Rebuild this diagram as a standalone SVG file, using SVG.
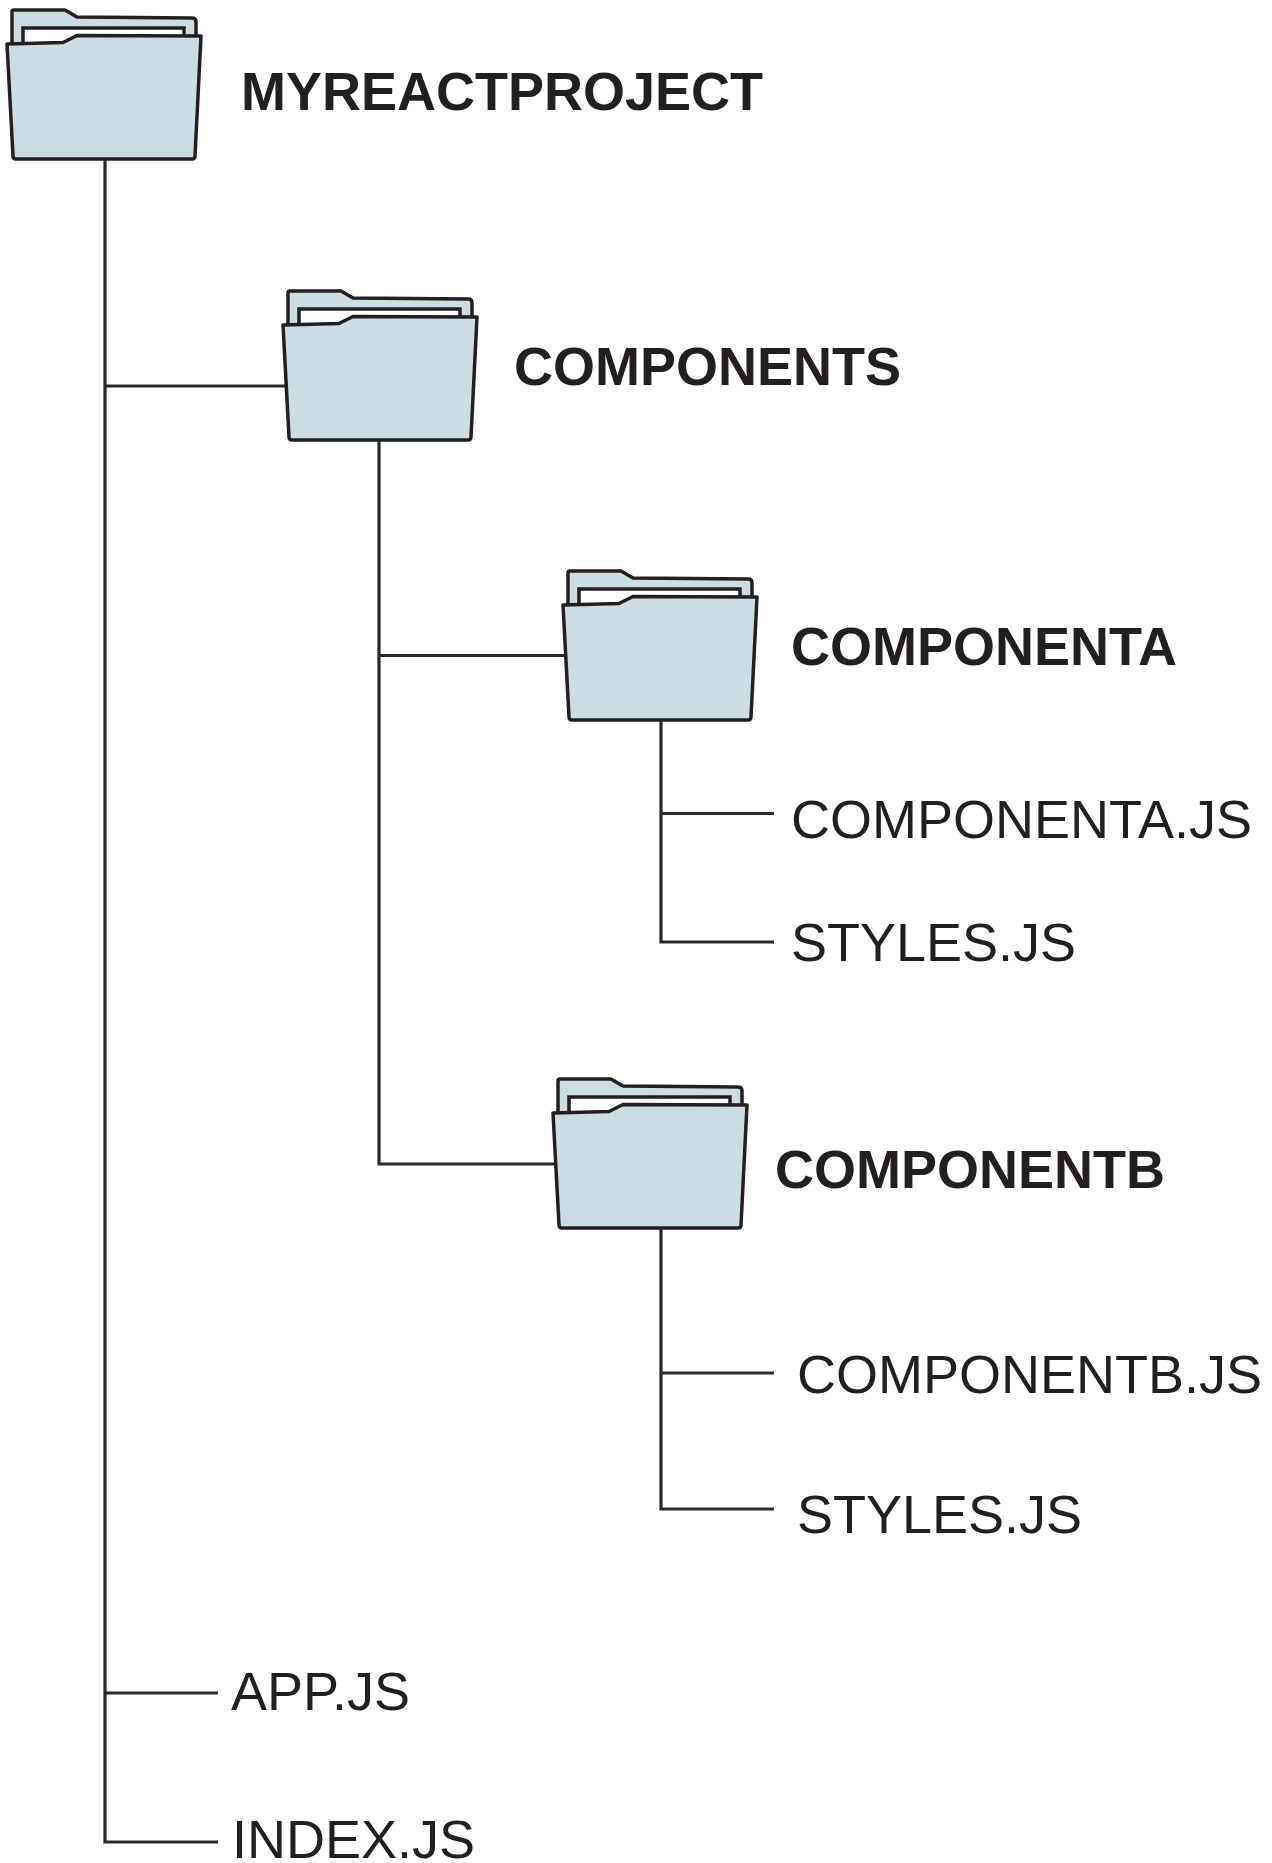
<svg xmlns="http://www.w3.org/2000/svg" width="1272" height="1863" viewBox="0 0 1272 1863">
<style>
.b{font:bold 54px "Liberation Sans",Arial,sans-serif;fill:#231f20}
.r{font:54px "Liberation Sans",Arial,sans-serif;fill:#231f20}
.l{fill:none;stroke:#2b2829;stroke-width:3.200}
.f{fill:#cbdce3;stroke:#231f20;stroke-width:3.500;stroke-linejoin:round}
.w{fill:#fff;stroke:#231f20;stroke-width:3.500}
</style>
<defs>
<g id="folder">
<path class="f" d="M12 46V12Q12 10 14 10H65L77 17L192 18Q196 18 196 22V46Z"/>
<path class="w" d="M23 46V28H184V40"/>
<path class="f" d="M7 44L63 42.500L77 35.500L201 36L195 156Q195 159 192 159H16Q13 159 13 156Z"/>
</g>
</defs>
<g id="connectors">
<path class="l" d="M105 159V1842H218M105 386H285M105 1693H218"/>
<path class="l" d="M379 440V1164H555M379 655.500H565"/>
<path class="l" d="M661 720V942H774M661 813.500H774"/>
<path class="l" d="M661 1228V1509H774M661 1373H774"/>
</g>
<g id="myreactproject"><use href="#folder"/><text class="b" x="241" y="110">MYREACTPROJECT</text></g>
<g id="components"><use href="#folder" x="276" y="281"/><text class="b" x="514" y="385">COMPONENTS</text></g>
<g id="componenta"><use href="#folder" x="556" y="561"/><text class="b" x="791" y="665">COMPONENTA</text></g>
<g id="componentb"><use href="#folder" x="546" y="1069"/><text class="b" x="775" y="1188">COMPONENTB</text></g>
<g id="componenta-js"><text class="r" x="791" y="838">COMPONENTA.JS</text></g>
<g id="styles-a"><text class="r" x="791" y="961">STYLES.JS</text></g>
<g id="componentb-js"><text class="r" x="797" y="1393">COMPONENTB.JS</text></g>
<g id="styles-b"><text class="r" x="797" y="1533">STYLES.JS</text></g>
<g id="app-js"><text class="r" x="231" y="1710">APP.JS</text></g>
<g id="index-js"><text class="r" x="232" y="1858">INDEX.JS</text></g>
</svg>
